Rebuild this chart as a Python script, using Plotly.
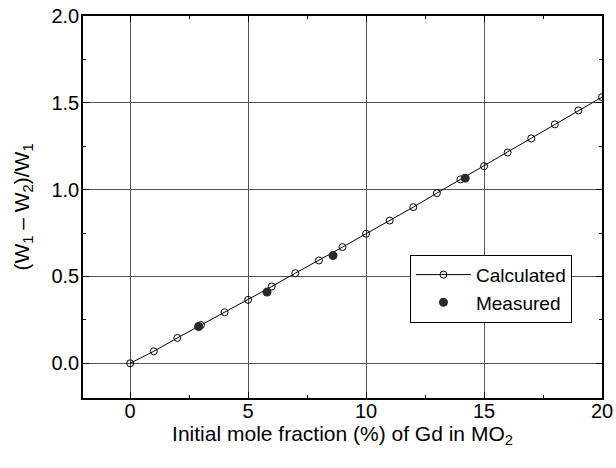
import plotly.graph_objects as go

calc_x = list(range(0, 21))
calc_y = [0.0, 0.069, 0.146, 0.22, 0.294, 0.365, 0.442, 0.519, 0.592, 0.669, 0.746,
          0.822, 0.899, 0.98, 1.059, 1.135, 1.214, 1.295, 1.376, 1.456, 1.533]
meas_x = [2.9, 5.8, 8.6, 14.2]
meas_y = [0.212, 0.41, 0.62, 1.066]

fig = go.Figure()
fig.add_trace(go.Scatter(x=calc_x, y=calc_y, mode="lines+markers", name="Calculated",
                         line=dict(color="black", width=1),
                         marker=dict(symbol="circle-open", size=7, color="black", line=dict(width=1))))
fig.add_trace(go.Scatter(x=meas_x, y=meas_y, mode="markers", name="Measured",
                         marker=dict(symbol="circle", size=9, color="#2a2a2a")))

axis_common = dict(showline=True, linecolor="black", linewidth=1.5, mirror="ticks",
                   ticks="inside", ticklen=6, tickcolor="black", showgrid=True,
                   gridcolor="#555555", gridwidth=1, zeroline=False, automargin=False,
                   tickfont=dict(size=20, color="black"))
fig.update_layout(
    width=616, height=468,
    margin=dict(l=83, r=14, t=16, b=70),
    paper_bgcolor="white", plot_bgcolor="white",
    font=dict(family="Liberation Sans, Arial, sans-serif", color="black"),
    xaxis=dict(range=[-2, 20], tickvals=[0, 5, 10, 15, 20], ticklabelstandoff=-6,
               minor=dict(ticks="inside", ticklen=3, dtick=2.5, tick0=0, tickcolor="black", showgrid=False),
               title=dict(text="Initial mole fraction (%) of Gd in MO<sub>2</sub>", font=dict(size=21), standoff=4),
               **axis_common),
    yaxis=dict(range=[-0.2, 2.0], tickvals=[0.0, 0.5, 1.0, 1.5, 2.0], tickformat=".1f", ticklabelstandoff=-2,
               minor=dict(ticks="inside", ticklen=3, dtick=0.25, tick0=0, tickcolor="black", showgrid=False),
               title=dict(text="(W<sub>1</sub> – W<sub>2</sub>)/W<sub>1</sub>", font=dict(size=21), standoff=16),
               **axis_common),
    legend=dict(x=0.63, y=0.375, xanchor="left", yanchor="top", bordercolor="black", borderwidth=1,
                bgcolor="white", font=dict(size=19), tracegroupgap=0, itemwidth=55),
    showlegend=True,
)
fig.write_html("out.html", post_script="document.body.style.margin='0';",
               config={"displayModeBar": False})
